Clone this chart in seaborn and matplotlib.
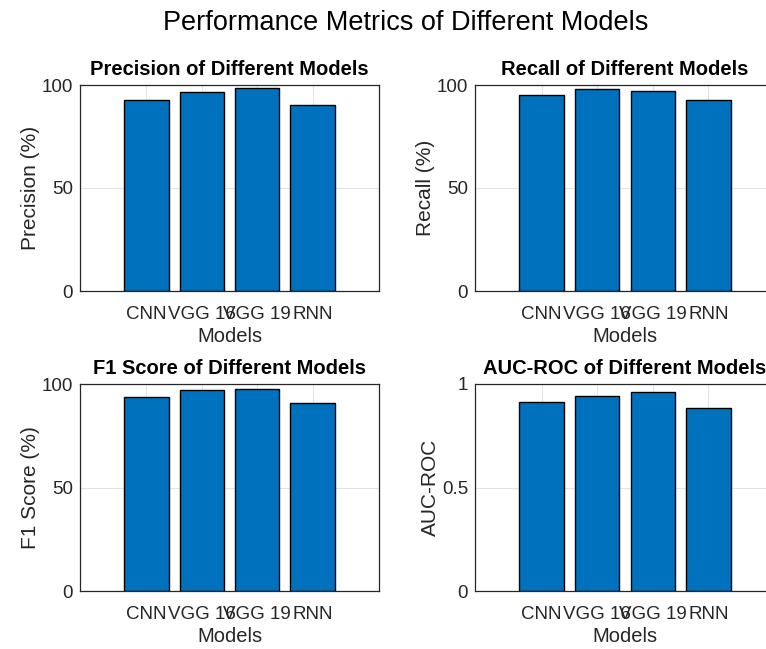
import seaborn as sns
import matplotlib.pyplot as plt

# values
models = ['CNN', 'VGG 16', 'VGG 19', 'RNN']
precision = [92.7, 96.4, 98.6, 90.3]
recall = [95.0, 97.9, 97.2, 92.6]
f1_score = [93.7, 96.9, 97.7, 90.7]
auc_roc = [0.913, 0.944, 0.960, 0.883]

pct_ticks = [0, 50, 100]
auc_ticks = [0, 0.5, 1]
auc_tick_labels = ['0', '0.5', '1']

sns.set_theme(style='whitegrid')
plt.rcParams['font.family'] = ['Liberation Sans', 'DejaVu Sans']

W, H = 766, 649
fig = plt.figure(figsize=(W / 100, H / 100), dpi=100)
fig.patch.set_facecolor('white')


def rect(x0, x1, y0, y1):
    # pixel box -> figure fraction
    return [x0 / W, 1 - y1 / H, (x1 - x0) / W, (y1 - y0) / H]


panels = [
    (rect(80, 379, 85, 291), precision, 'Precision of Different Models', 'Precision (%)', 100),
    (rect(475, 775, 85, 291), recall, 'Recall of Different Models', 'Recall (%)', 100),
    (rect(80, 379, 384, 591), f1_score, 'F1 Score of Different Models', 'F1 Score (%)', 100),
    (rect(475, 775, 384, 591), auc_roc, 'AUC-ROC of Different Models', 'AUC-ROC', 1),
]

ink = '#262626'
for box, vals, title, ylabel, top in panels:
    ax = fig.add_axes(box)
    sns.barplot(x=models, y=vals, ax=ax, color='#0072BD', saturation=1,
                edgecolor='black', linewidth=1.0, width=0.8)
    ax.set_xlim(-1.2, 4.2)
    ax.set_ylim(0, top)
    if top == 1:
        ax.set_yticks(auc_ticks)
        ax.set_yticklabels(auc_tick_labels)
    else:
        ax.set_yticks(pct_ticks)
    ax.grid(True, color='#e3e3e3', linewidth=0.8)
    ax.set_axisbelow(True)
    for s in ax.spines.values():
        s.set_visible(True)
        s.set_color(ink)
        s.set_linewidth(0.9)
    ax.tick_params(axis='both', direction='in', length=3, color=ink,
                   labelsize=13.5, labelcolor=ink, pad=5)
    ax.tick_params(axis='x', pad=11)
    ax.set_title(title, fontsize=14.5, fontweight='bold', color='black', pad=7)
    ax.set_xlabel('Models', fontsize=14.5, color=ink, labelpad=3)
    ax.set_ylabel(ylabel, fontsize=15, color=ink, labelpad=1)

fig.text(406 / W, 1 - 23 / H, 'Performance Metrics of Different Models',
         ha='center', va='center', fontsize=19.5, color='black')

fig.savefig('out.png', dpi=100, facecolor='white')
